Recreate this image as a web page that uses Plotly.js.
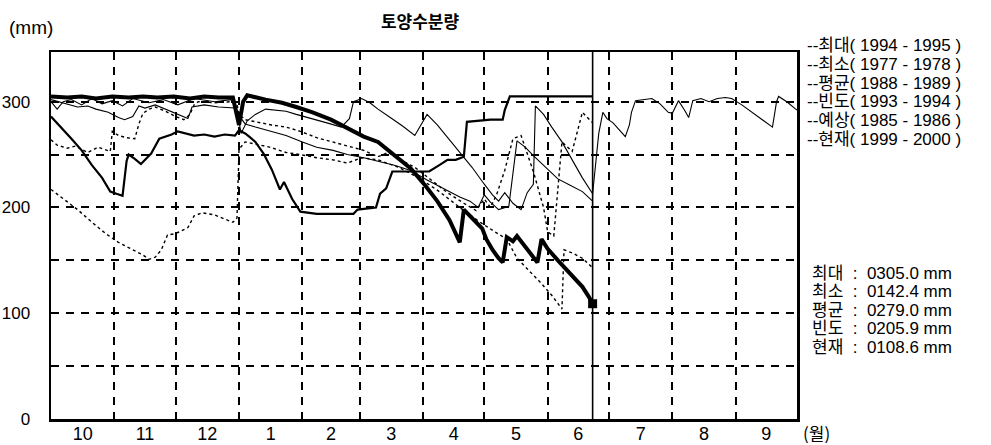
<!DOCTYPE html>
<html>
<head>
<meta charset="utf-8">
<script src="https://cdn.plot.ly/plotly-3.0.1.min.js"></script>
<style>
  html, body { margin: 0; padding: 0; background: #fff; }
  #chart { width: 991px; height: 445px; }
</style>
</head>
<body>
<div id="chart"></div>
<script>
// ---------- DATA (x = day of season, 0 = 1 Oct) ----------
const MONTH_LABELS = ['10','11','12','1','2','3','4','5','6','7','8','9'];
const MONTH_BOUNDS = [31, 61, 92, 123, 151, 182, 212, 243, 273, 304, 335];
const MONTH_MIDS   = [15.5, 46, 76.5, 107.5, 137, 166.5, 197, 227.5, 258, 288.5, 319.5, 350];
const SEASON_DAYS = 365;
const CURRENT_DAY = 265;

const Y_TICKS = [0, 50, 100, 150, 200, 250, 300];
const Y_TICK_TEXT = ['0', '', '100', '', '200', '', '300'];

// 현재 (1999 - 2000)
const curDays = [0,8,15,22,30,38,45,52,60,68,75,82,89,91,92,94,96,105,113,120,128,137,145,153,160,166,171,176,183,189,195,200,202,205,208,211,213,216,219,221,223,226,228,232,235,238,240,243,248,252,256,260,263,265];
const curVals = [305,304,305,303,305,304,305,304,305,303,305,304,304,285,278,300,306,302,299,295,290,283,275,267,262,253,245,237,221,206,188,167,198,192,186,180,170,160,152,148,172,168,173,163,155,148,170,161,150,142,134,125,116,109];

// 최대 (1994 - 1995)
const maxDays = [0,5,10,15,20,25,29,32,35,37,38,41,44,47,49,53,56,59,62,66,70,75,80,85,90,92,95,97,100,104,108,112,114,118,122,130,140,148,150,155,159,161,164,167,175,185,190,194,198,202,203.5,210,215,221,222,224.5,235,245,255,265];
const maxVals = [286,276,265,254,240,228,215,213,211,244,250,246,241,247,251,265,267,269,272,270,268,269,267,269,268,273,270,267,262,251,236,217,224,208,196,194,194,194,198,199,200,213,218,234,234,234,240,245,245,248,281,282,283,283,292,305,305,305,305,305];

// 최소 (1977 - 1978)
const minDays = [0,6,13,20,27,33,40,45,48,51,54,57,60,63,67,70,74,80,85,89,91,92,95,100,107,115,122,130,138,145,152,160,170,180,190,200,210,218,223,228,234,240,245,250,251,255,260,265];
const minVals = [217,208,198,186,175,167,160,155,151,153,160,174,175,177,181,192,195,193,189,186,190,255,262,260,257,252,250,247,245,242,247,245,238,228,215,200,186,176,170,152,140,128,117,104,160,157,152,143];

// 평균 (1988 - 1989)
const avgDays = [0,3,8,12,15,18,23,27,29,30,33,37,41,43,45,48,51,56,61,65,68,70,72,80,88,91,92,95,100,108,115,122,130,138,145,153,160,165,170,178,186,194,202,208,212,215,218,222,226,230,236,241,243,246,250,255,260,265];
const avgVals = [264,259,256,258,255,252,257,254,253,272,268,266,265,279,289,293,295,291,286,283,288,297,300,299,300,298,288,283,281,278,276,272,266,262,258,254,248,252,246,238,226,214,204,197,208,200,212,235,265,268,234,200,177,173,262,253,290,280];

// 빈도 (1993 - 1994)
const frqDays = [0,4,9,13,18,22,28,33,36,40,43,46,51,56,62,67,69,75,82,90,92,95,100,108,115,123,130,138,145,153,160,168,176,184,192,200,205,209,212,215,219,224,228,232,236,242,248,254,260,265];
const frqVals = [302,300,297,295,296,293,290,285,283,286,296,294,297,293,288,284,295,297,295,294,287,279,276,272,268,262,257,254,250,247,244,240,235,226,218,210,206,200,212,205,198,201,263,257,249,238,227,221,215,206];

// 예상 (1985 - 1986)
const fcsDays = [0,3,6,10,15,20,25,30,35,40,48,55,62,70,80,88,91,93,96,100,105,110,115,120,128,135,142,146,148,152,156,160,166,172,178,184,189,194,200,206,212,216,219,222,226,230,233,236,237,241,245,250,255,260,265,266,267,268,270,272,275,278,281,283,284,286,290,294,298,302,304,307,310,312,314,318,322,326,330,333,338,343,348,353,355,356,360,364,365];
const fcsVals = [300,293,300,302,297,303,298,301,296,303,299,302,297,303,300,302,292,270,282,288,293,292,291,288,284,280,276,284,300,303,299,293,285,277,268,288,278,266,252,238,222,212,206,214,204,198,214,222,296,288,276,262,245,228,213,232,252,270,290,284,280,274,267,278,290,301,302,303,298,290,289,301,292,285,301,303,300,303,304,303,297,290,283,276,300,305,300,293,292];

const LEGEND_LABELS = ['--최대( 1994 - 1995 )','--최소( 1977 - 1978 )','--평균( 1988 - 1989 )','--빈도( 1993 - 1994 )','--예상( 1985 - 1986 )','--현재( 1999 - 2000 )'];
const STAT_LABELS = ['최대','최소','평균','빈도','현재'];
const STAT_VALUES = ['0305.0','0142.4','0279.0','0205.9','0108.6'];

// ---------- LAYOUT ----------
const W = 991, H = 445;
const L = 51, R = 797, T = 52, B = 419;
const FONT = 'Liberation Sans, Arial, Noto Sans CJK KR, sans-serif';
const KFONT = 'Noto Sans CJK KR, sans-serif';
const NB = '\u00a0';
const px = (x) => (x - L) / (R - L);
const py = (y) => (B - y) / (B - T);

const thin = (days, vals, dash, w) => ({
  x: days, y: vals, type: 'scatter', mode: 'lines',
  line: {color: '#000', width: w, dash: dash, shape: 'linear'},
  hoverinfo: 'skip', showlegend: false
});

const traces = [
  thin(minDays, minVals, 'dot', 1.4),
  thin(avgDays, avgVals, 'dot', 1.4),
  thin(frqDays, frqVals, 'solid', 1.1),
  thin(fcsDays, fcsVals, 'solid', 1.1),
  thin(maxDays, maxVals, 'solid', 2.2),
  thin(curDays, curVals, 'solid', 4),
  {x: [curDays[curDays.length-1]], y: [curVals[curVals.length-1]], type: 'scatter', mode: 'markers',
   marker: {symbol: 'square', size: 9, color: '#000'}, showlegend: false, hoverinfo: 'skip'},
  {x: [CURRENT_DAY, CURRENT_DAY], y: [0, 347], xaxis: 'x2', type: 'scatter', mode: 'lines',
   line: {color: '#000', width: 1.6}, showlegend: false, hoverinfo: 'skip'}
];

const annotations = [];
LEGEND_LABELS.forEach((t, i) => {
  annotations.push({xref: 'paper', yref: 'paper', x: px(806), y: py(46 + i * 18.6),
    xanchor: 'left', yanchor: 'middle', text: t, showarrow: false, borderpad: 0,
    font: {family: FONT, size: 17, color: '#000'}});
});
STAT_LABELS.forEach((t, i) => {
  annotations.push({xref: 'paper', yref: 'paper', x: px(811), y: py(273 + i * 18.6),
    xanchor: 'left', yanchor: 'middle', showarrow: false, borderpad: 0,
    text: t + NB + NB + ':' + NB + NB + STAT_VALUES[i] + ' mm',
    font: {family: FONT, size: 17, color: '#000'}});
});
annotations.push({xref: 'paper', yref: 'paper', x: px(7), y: py(28), xanchor: 'left', yanchor: 'middle',
  text: '(mm)', showarrow: false, font: {family: FONT, size: 19, color: '#000'}});
annotations.push({xref: 'paper', yref: 'paper', x: px(801), y: py(432), xanchor: 'left', yanchor: 'middle',
  text: '(월)', showarrow: false, font: {family: KFONT, size: 17, color: '#000'}});

const gridStyle = {gridcolor: '#000', gridwidth: 2, griddash: '8px,7px'};

const layout = {
  width: W, height: H,
  margin: {l: L, r: W - R, t: T, b: H - B, pad: 0},
  paper_bgcolor: '#fff', plot_bgcolor: '#fff',
  showlegend: false,
  title: {text: '토양수분량', x: 420 / W, xref: 'container', xanchor: 'center',
          y: 1 - 22 / H, yref: 'container', yanchor: 'middle',
          font: {family: KFONT, size: 17, color: '#000', weight: 'bold'}},
  xaxis: Object.assign({
    range: [0, SEASON_DAYS], tickmode: 'array', tickvals: MONTH_BOUNDS,
    ticktext: MONTH_BOUNDS.map(() => ''), showgrid: true, zeroline: false,
    showline: true, linecolor: '#000', linewidth: 2.5, mirror: true, ticks: '', fixedrange: true
  }, gridStyle),
  xaxis2: {
    overlaying: 'x', anchor: 'y', side: 'bottom', range: [0, SEASON_DAYS],
    tickmode: 'array', tickvals: MONTH_MIDS, ticktext: MONTH_LABELS,
    showgrid: false, zeroline: false, showline: false, ticks: '',
    tickfont: {family: FONT, size: 18, color: '#000'}, ticklabelstandoff: 2, fixedrange: true
  },
  yaxis: Object.assign({
    range: [0, 347], tickmode: 'array', tickvals: Y_TICKS, ticktext: Y_TICK_TEXT,
    showgrid: true, zeroline: false, showline: true, linecolor: '#000', linewidth: 2.5, mirror: true,
    ticks: '', tickfont: {family: FONT, size: 17, color: '#000'}, ticklabelstandoff: 15, fixedrange: true
  }, gridStyle),
  annotations: annotations
};

Plotly.newPlot('chart', traces, layout, {displayModeBar: false, staticPlot: true});
</script>
</body>
</html>
